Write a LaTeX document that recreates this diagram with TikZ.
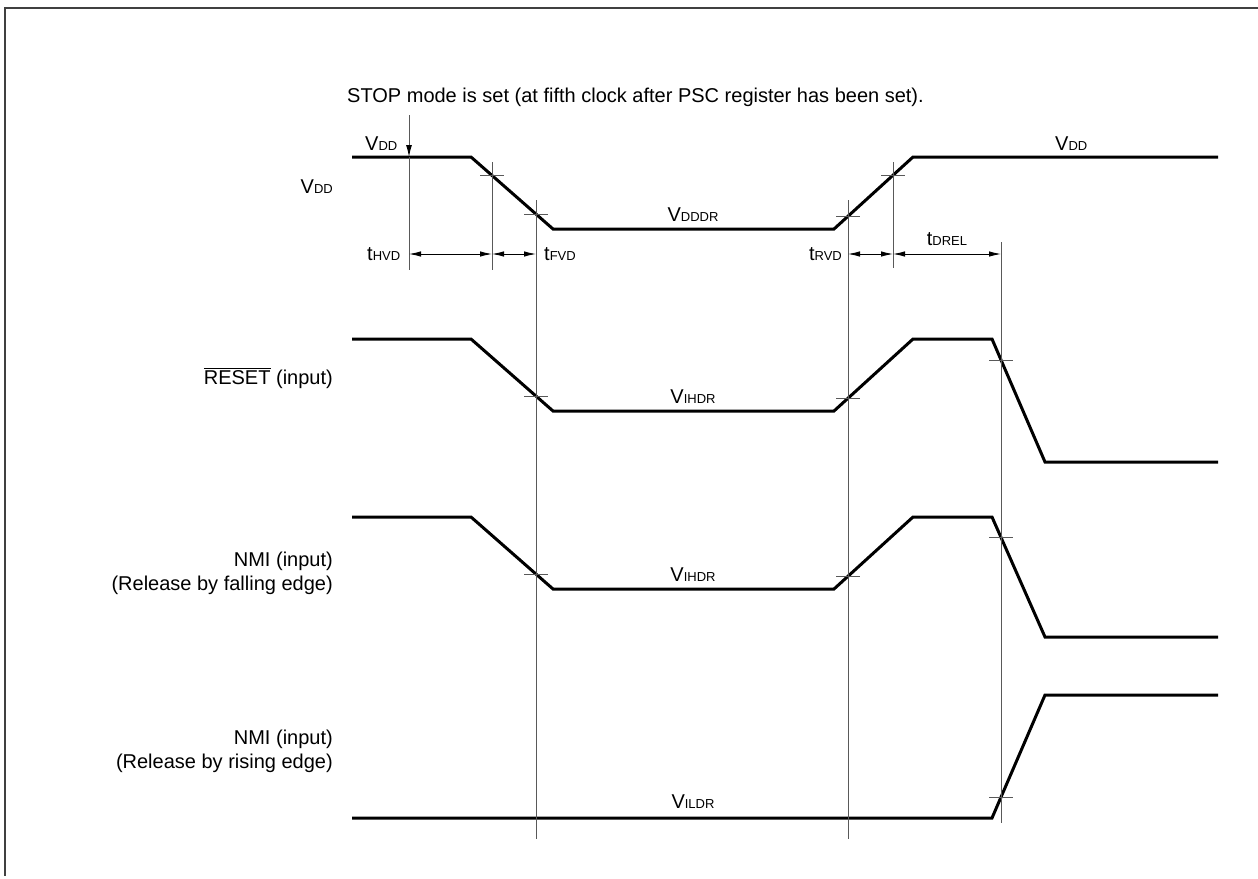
\documentclass[tikz,border=0pt]{standalone}
\usepackage{fontspec}
\setmainfont{Liberation Sans}
\usetikzlibrary{arrows.meta}
\newcommand{\sbs}[1]{{\fontsize{13}{14}\selectfont #1}}
\begin{document}
\begin{tikzpicture}[x=1pt,y=-1pt,
  wave/.style={line width=3pt, line join=miter},
  guide/.style={line width=1pt, draw=black!65},
  tickmark/.style={line width=0.9pt, draw=black!65},
  dimarrow/.style={line width=0.9pt, {Latex[length=12pt,width=5.5pt]}-{Latex[length=12pt,width=5.5pt]}},
  lbl/.style={font=\fontsize{20}{23}\selectfont, inner sep=0pt},
  siglbl/.style={font=\fontsize{20}{23}\selectfont, inner sep=0pt, anchor=base east, align=right},
]
\useasboundingbox (0,0) rectangle (1258,878);
\draw[line width=2pt, draw=black!75] (1258,8) -- (5,8) -- (5,876);

% title
\node[lbl, anchor=base west] (title) at (347,102) {STOP mode is set (at fifth clock after PSC register has been set).};

% signal names
\node[siglbl] (nVdd) at (333,193) {V\sbs{DD}};
\node[siglbl] (nRes) at (333,384) {$\overline{\mbox{RESET}}$ (input)};
\node[siglbl] (nNmiF) at (333,566) {NMI (input)};
\node[siglbl] (nNmiF2) at (333,590) {(Release by falling edge)};
\node[siglbl] (nNmiR) at (333,744) {NMI (input)};
\node[siglbl] (nNmiR2) at (333,768) {(Release by rising edge)};

% waveforms
\draw[wave] (352,157) -- (471,157) -- (553,229) -- (834,229) -- (913,157) -- (1218,157);
\draw[wave] (352,339) -- (471,339) -- (553,411) -- (834,411) -- (913,339) -- (992,339) -- (1045,462) -- (1218,462);
\draw[wave] (352,517) -- (471,517) -- (553,589) -- (834,589) -- (913,517) -- (992,517) -- (1045,637) -- (1218,637);
\draw[wave] (352,818) -- (992,818) -- (1045,695) -- (1218,695);

% level labels
\node[lbl, anchor=base west] (lVddL) at (365,150) {V\sbs{DD}};
\node[lbl, anchor=base west] (lVddR) at (1055,150) {V\sbs{DD}};
\node[lbl, anchor=base] (lVdddr) at (693,221) {V\sbs{DDDR}};
\node[lbl, anchor=base] (lVihdr1) at (693,403) {V\sbs{IHDR}};
\node[lbl, anchor=base] (lVihdr2) at (693,581) {V\sbs{IHDR}};
\node[lbl, anchor=base] (lVildr) at (693,808) {V\sbs{ILDR}};

% guide lines
\coordinate (g0t) at (409,115); \coordinate (g0m) at (409,157); \coordinate (g0b) at (409,270);
\coordinate (g1t) at (492,162); \coordinate (g1b) at (492,270);
\coordinate (g2t) at (536,200); \coordinate (g2b) at (536,839);
\coordinate (g3t) at (848,200); \coordinate (g3b) at (848,839);
\coordinate (g4t) at (893,162); \coordinate (g4b) at (893,268);
\coordinate (g5t) at (1001,242); \coordinate (g5b) at (1001,823);
\draw[guide, -{Latex[length=12pt,width=6pt,color=black]}] (g0t) -- (g0m);
\draw[guide] (g0m) -- (g0b);
\draw[guide] (g1t) -- (g1b);
\draw[guide] (g2t) -- (g2b);
\draw[guide] (g3t) -- (g3b);
\draw[guide] (g4t) -- (g4b);
\draw[guide] (g5t) -- (g5b);

% dimension arrows
\coordinate (d0) at (409,254); \coordinate (d1) at (492,254); \coordinate (d2) at (536,254);
\coordinate (d3) at (848,254); \coordinate (d4) at (893,254); \coordinate (d5) at (1001,254);
\draw[dimarrow] (d0) -- (d1);
\draw[dimarrow] (d1) -- (d2);
\draw[dimarrow] (d3) -- (d4);
\draw[dimarrow] (d4) -- (d5);
\node[lbl, anchor=base west] (tHvd) at (367,260) {t\sbs{HVD}};
\node[lbl, anchor=base west] (tFvd) at (544,260) {t\sbs{FVD}};
\node[lbl, anchor=base east] (tRvd) at (842,260) {t\sbs{RVD}};
\node[lbl, anchor=base] (tDrel) at (947,245) {t\sbs{DREL}};

% crossing ticks
\foreach \px/\py in {492/175, 536/214, 848/216, 893/175,
                     536/396, 848/398, 1001/360,
                     536/574, 848/576, 1001/537,
                     1001/797}
  \draw[tickmark] (\px-12,\py) -- (\px+12,\py);
\end{tikzpicture}
\end{document}
